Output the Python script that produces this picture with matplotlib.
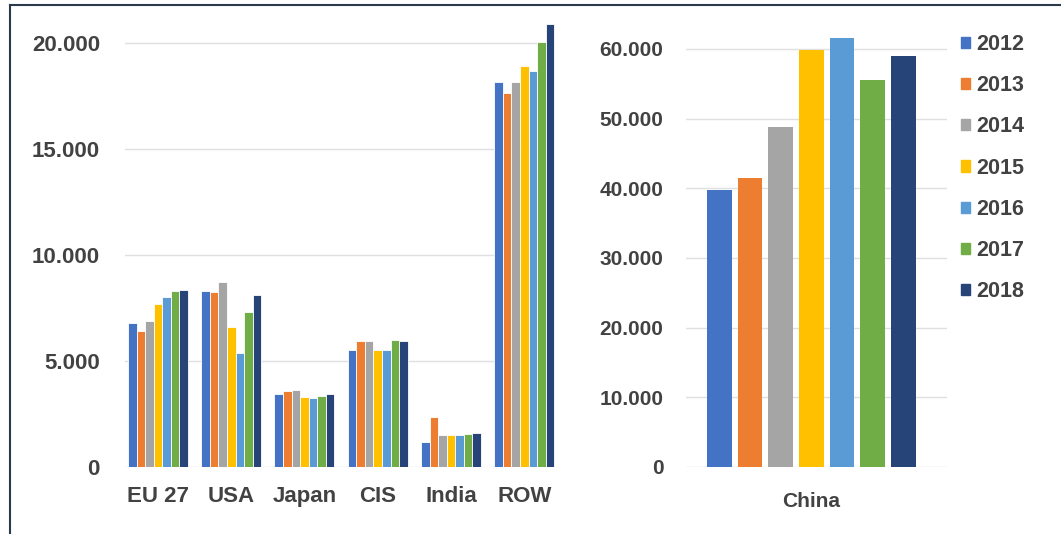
import matplotlib
matplotlib.use("Agg")
import matplotlib.pyplot as plt
from matplotlib.lines import Line2D
import numpy as np

plt.rcParams['font.family'] = ['Liberation Sans', 'DejaVu Sans']
plt.rcParams['font.weight'] = 'bold'

# data
years = ['2012', '2013', '2014', '2015', '2016', '2017', '2018']
colors = ['#4472C4', '#ED7D31', '#A5A5A5', '#FFC000', '#5B9BD5', '#70AD47', '#264478']

regions = ['EU 27', 'USA', 'Japan', 'CIS', 'India', 'ROW']
eu27 = [6800, 6400, 6900, 7700, 8000, 8300, 8350]
usa = [8300, 8250, 8750, 6600, 5400, 7300, 8100]
japan = [3450, 3600, 3650, 3300, 3250, 3350, 3450]
cis = [5500, 5950, 5950, 5500, 5500, 6000, 5950]
india = [1200, 2380, 1500, 1500, 1500, 1580, 1600]
row = [18150, 17650, 18150, 18900, 18700, 20050, 20900]

china = [39800, 41500, 48800, 59900, 61500, 55600, 59000]

text_col = '#424242'
grid_col = '#E0E0E0'

fig = plt.figure(figsize=(10.61, 5.34), dpi=100)

# left panel
ax1 = fig.add_axes([125/1061, 67/534, 430/1061, 455.8/534])
series = np.array([eu27, usa, japan, cis, india, row])
x = np.arange(len(regions))
w = 0.117
for j, yr in enumerate(years):
    ax1.bar(x + (j - 3) * w, series[:, j], width=w, color=colors[j],
            edgecolor='white', linewidth=0.6, zorder=3)
ax1.set_xlim(-0.45, 5.42)
ax1.set_ylim(0, 21500)
ax1.set_yticks([0, 5000, 10000, 15000, 20000])
ax1.set_yticklabels(['0', '5.000', '10.000', '15.000', '20.000'])
ax1.set_xticks(x)
ax1.set_xticklabels(regions)
ax1.tick_params(axis='y', length=0, pad=18, labelsize=16, labelcolor=text_col)
ax1.tick_params(axis='x', length=0, pad=14, labelsize=16, labelcolor=text_col)
ax1.grid(axis='y', color=grid_col, linewidth=1, zorder=0)
for s in ax1.spines.values():
    s.set_visible(False)

# right panel - China
ax2 = fig.add_axes([685.8/1061, 67/534, 261.2/1061, 453/534])
xc = np.arange(len(years))
ax2.bar(xc, china, width=0.8, color=colors, zorder=3)
ax2.set_xlim(-1.09, 7.42)
ax2.set_ylim(0, 65000)
ax2.set_yticks([0, 10000, 20000, 30000, 40000, 50000, 60000])
ax2.set_yticklabels(['0', '10.000', '20.000', '30.000', '40.000', '50.000', '60.000'])
ax2.set_xticks([3])
ax2.set_xticklabels(['China'])
ax2.tick_params(axis='y', length=0, pad=16, labelsize=15, labelcolor=text_col)
ax2.tick_params(axis='x', length=0, pad=18, labelsize=15, labelcolor=text_col)
ax2.grid(axis='y', color=grid_col, linewidth=1, zorder=0)
for s in ax2.spines.values():
    s.set_visible(False)

handles = [plt.Rectangle((0, 0), 1, 1, color=c) for c in colors]
leg = fig.legend(handles, years, loc='upper left', bbox_to_anchor=(961/1061, 1 - 34/534),
                 frameon=False, fontsize=15.5, handlelength=0.42, handleheight=0.42,
                 handletextpad=0.3, labelspacing=0.94, borderpad=0, borderaxespad=0)
for t in leg.get_texts():
    t.set_color(text_col)

# outer frame
fig.add_artist(Line2D([10/1061, 10/1061], [0, 1 - 5/534], color='#2B3A4A', linewidth=1.5))
fig.add_artist(Line2D([10/1061, 1], [1 - 5/534, 1 - 5/534], color='#2B3A4A', linewidth=1.5))

fig.savefig('out.png', dpi=100)
